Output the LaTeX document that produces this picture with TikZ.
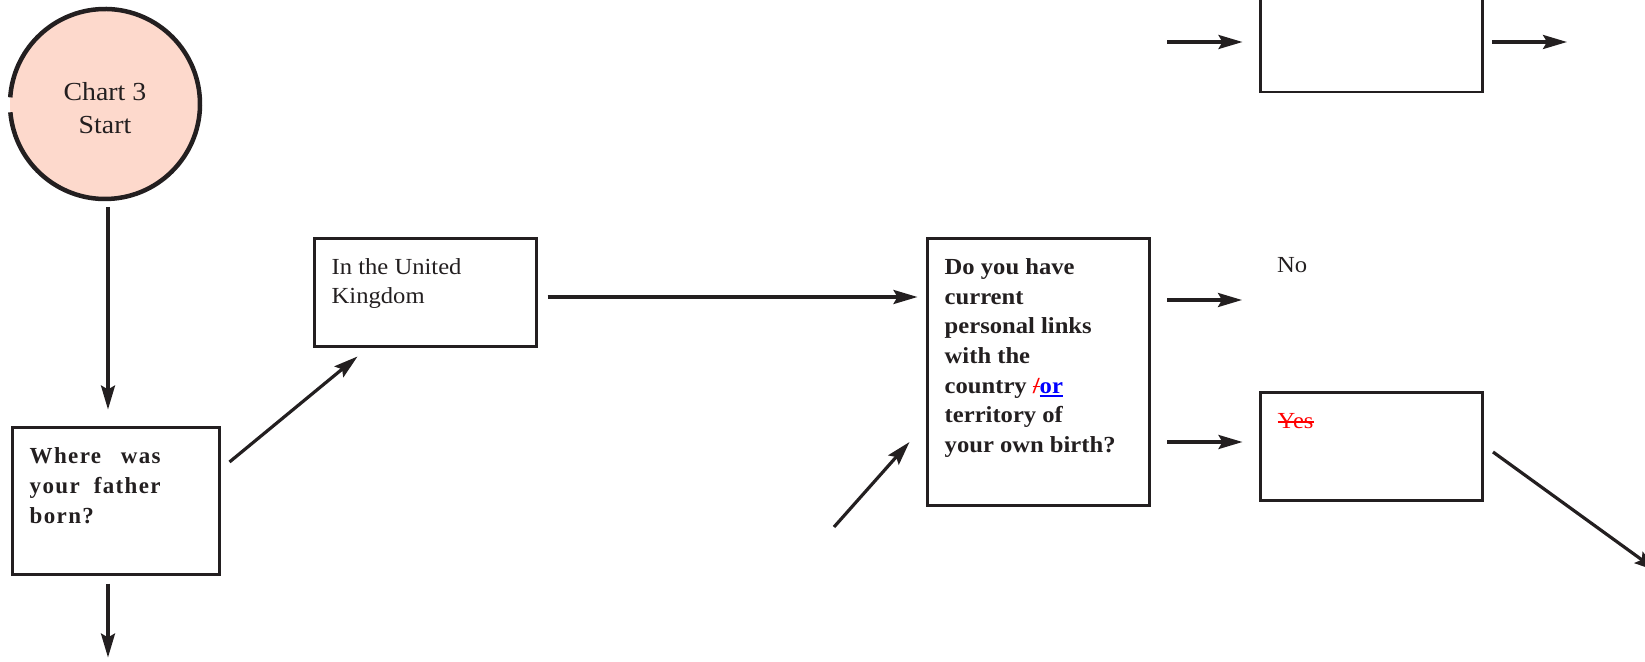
\documentclass[tikz,border=0pt]{standalone}
\usepackage{fontspec}
\setmainfont{Liberation Serif}[FakeStretch=1.07]
\newfontfamily\spacedserif{Liberation Serif}[LetterSpace=6]
\usetikzlibrary{arrows.meta,positioning}
\definecolor{ink}{RGB}{35,31,32}
\definecolor{peach}{RGB}{253,217,204}
\newcommand{\struck}[1]{\textcolor{red}{\setbox0\hbox{#1}\rlap{\rule[0.26em]{\wd0}{1.2pt}}\box0}}
\newcommand{\inserted}[1]{\textcolor{blue}{\setbox0\hbox{#1}\rlap{\rule[-0.17em]{\wd0}{1.8pt}}\box0}}
\tikzset{
  chartbox/.style={draw=ink,line width=2.8pt,inner sep=0pt,outer sep=0pt,
    minimum width=222pt,minimum height=108pt},
  flow/.style={draw=ink,line width=3.2pt,-{Stealth[length=24pt,width=14pt,inset=4pt]}},
  % base west of a several-line node is the base of its last line
  boxtext/.style={text=ink,anchor=base west,inner sep=0pt,align=left,
    font=\fontsize{23}{29.7}\selectfont},
}

\begin{document}
\begin{tikzpicture}[x=1pt,y=1pt]
\useasboundingbox (0,0) rectangle (1645,661);

% start circle, open at the left
\node[circle,fill=peach,minimum size=190pt,inner sep=0pt,outer sep=0pt] (start) at (105,557) {};
\draw[ink,line width=4.5pt] (start.185) arc[start angle=185,end angle=536,radius=95pt];
\node[text=ink,align=center,font=\fontsize{26}{33}\selectfont,yshift=-4pt] (starttext) at (start) {Chart 3\\Start};

% boxes
\node[chartbox,minimum width=207pt,minimum height=147pt] (father) at (116,160) {};
\node[chartbox] (uk) at (425.5,368.5) {};
\node[chartbox,minimum height=267pt] (links) at (1038.5,289) {};
\node[chartbox] (yes) at (1371.5,214.5) {};
\node[chartbox] (next) at (1371.5,623) {};

% texts
\node[boxtext,font=\spacedserif\bfseries\fontsize{23}{30}\selectfont] (fathertext)
  at ([shift={(17pt,-96pt)}]father.north west)
  {\makebox[131pt][s]{Where was}\\\makebox[131pt][s]{your father}\\born?};
\node[boxtext,font=\fontsize{23}{29}\selectfont] (uktext) at ([shift={(17pt,-65pt)}]uk.north west) {In the United\\Kingdom};
\node[boxtext,font=\bfseries\fontsize{23}{29.7}\selectfont] (linkstext)
  at ([shift={(17pt,-214.2pt)}]links.north west)
  {Do you have\\current\\personal links\\with the\\country \struck{/}\inserted{or}\\territory of\\your own birth?};
\node[boxtext] (notext) at (1277,388) {No};
\node[boxtext] (yestext) at ([shift={(17pt,-36pt)}]yes.north west) {\struck{Yes}};

% connectors
\draw[flow] ([shift={(3pt,-8pt)}]start.south) -- ([shift={(-8pt,18pt)}]father.north);
\draw[flow] ([shift={(-8pt,-9pt)}]father.south) -- ++(0,-74pt) coordinate (fatherout);
\draw[flow] ([shift={(10pt,39pt)}]father.east) -- ([shift={(43pt,-10pt)}]uk.south west);
\draw[flow] ([shift={(11pt,-4.5pt)}]uk.east) coordinate (ukout) -- ([xshift=-10pt]links.west |- ukout);
\coordinate (otherin) at (834,134);
\draw[flow] (otherin) -- ([shift={(-18pt,63.5pt)}]links.south west);
\draw[flow] ([shift={(17.5pt,72pt)}]links.east) -- ++(75pt,0);
\draw[flow] ([shift={(17.5pt,-70pt)}]links.east) -- ([shift={(-18pt,4.5pt)}]yes.west);
\draw[flow] ([shift={(-93.5pt,-4pt)}]next.west) -- ([shift={(-18pt,-4pt)}]next.west);
\draw[flow] ([shift={(9.5pt,-4pt)}]next.east) -- ++(75pt,0);
\draw[flow] ([shift={(10.5pt,-5.5pt)}]yes.east) -- ++(165pt,-119.5pt);

\end{tikzpicture}
\end{document}
